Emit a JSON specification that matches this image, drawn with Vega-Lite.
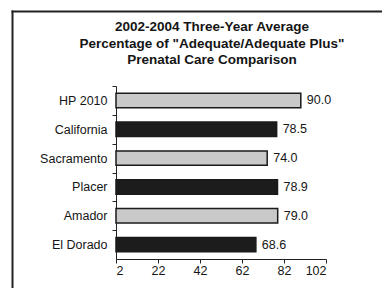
{
  "$schema": "https://vega.github.io/schema/vega-lite/v6.json",
  "autosize": {"type": "none"},
  "width": 372,
  "height": 279,
  "padding": {"left": 12, "top": 11, "right": -2, "bottom": -2},
  "background": "white",
  "title": {
    "text": ["2002-2004 Three-Year Average", "Percentage of \"Adequate/Adequate Plus\"", "Prenatal Care Comparison"],
    "anchor": "middle",
    "frame": "group",
    "offset": -56,
    "dx": 14,
    "fontSize": 13.5,
    "fontWeight": "bold",
    "font": "Liberation Sans",
    "color": "#151515",
    "lineHeight": 16.8
  },
  "data": {
    "values": [
      {"region": "HP 2010", "pct": 90.0},
      {"region": "California", "pct": 78.5},
      {"region": "Sacramento", "pct": 74.0},
      {"region": "Placer", "pct": 78.9},
      {"region": "Amador", "pct": 79.0},
      {"region": "El Dorado", "pct": 68.6}
    ]
  },
  "layer": [
    {
      "encoding": {
        "y": {
          "field": "region",
          "type": "nominal",
          "sort": null,
          "title": null,
          "scale": {"range": [75, 248], "paddingInner": 0.5, "paddingOuter": 0.25},
          "axis": {
            "orient": "left",
            "offset": -104,
            "bandPosition": 0.5,
            "tickOffset": -14.4,
            "labelOffset": 14.4,
            "tickSize": 4,
            "labelPadding": 5,
            "domainColor": "#222",
            "tickColor": "#222",
            "labelColor": "#151515",
            "labelFont": "Liberation Sans",
            "labelFontSize": 12.5
          }
        },
        "x": {
          "field": "pct",
          "type": "quantitative",
          "title": null,
          "scale": {"domain": [2, 102], "range": [104, 314], "nice": false, "zero": false},
          "axis": {
            "orient": "bottom",
            "offset": -31,
            "values": [2, 22, 42, 62, 82, 102],
            "grid": false,
            "tickSize": 4,
            "labelPadding": 1,
            "domainColor": "#222",
            "tickColor": "#222",
            "labelColor": "#151515",
            "labelFont": "Liberation Sans",
            "labelFontSize": 12.5
          }
        }
      },
      "layer": [
        {
          "mark": {"type": "bar", "stroke": "#1a1a1a", "strokeWidth": 1.5},
          "encoding": {
            "x2": {"datum": 2},
            "color": {
              "condition": {"test": "indexof(['HP 2010','Sacramento','Amador'], datum.region) >= 0", "value": "#c9c9c9"},
              "value": "#1c1c1c"
            }
          }
        },
        {
          "mark": {"type": "text", "align": "left", "baseline": "middle", "dx": 6, "font": "Liberation Sans", "fontSize": 12.5, "color": "#151515"},
          "encoding": {
            "text": {"field": "pct", "type": "quantitative", "format": ".1f"}
          }
        }
      ]
    },
    {
      "mark": {"type": "point", "opacity": 0},
      "encoding": {
        "x": {
          "field": "pct",
          "type": "quantitative",
          "title": null,
          "scale": {"domain": [0, 200], "nice": false, "zero": false},
          "axis": {"orient": "top", "ticks": false, "labels": false, "grid": false, "domainColor": "#222", "domainWidth": 2, "domainCap": "square"}
        },
        "y": {
          "field": "pct",
          "type": "quantitative",
          "title": null,
          "scale": {"domain": [0, 200], "nice": false, "zero": false},
          "axis": {"orient": "right", "offset": -372, "ticks": false, "labels": false, "grid": false, "domainColor": "#222", "domainWidth": 2, "domainCap": "square"}
        }
      }
    }
  ],
  "resolve": {
    "scale": {"x": "independent", "y": "independent"},
    "axis": {"x": "independent", "y": "independent"}
  },
  "config": {
    "view": {"stroke": null}
  }
}
